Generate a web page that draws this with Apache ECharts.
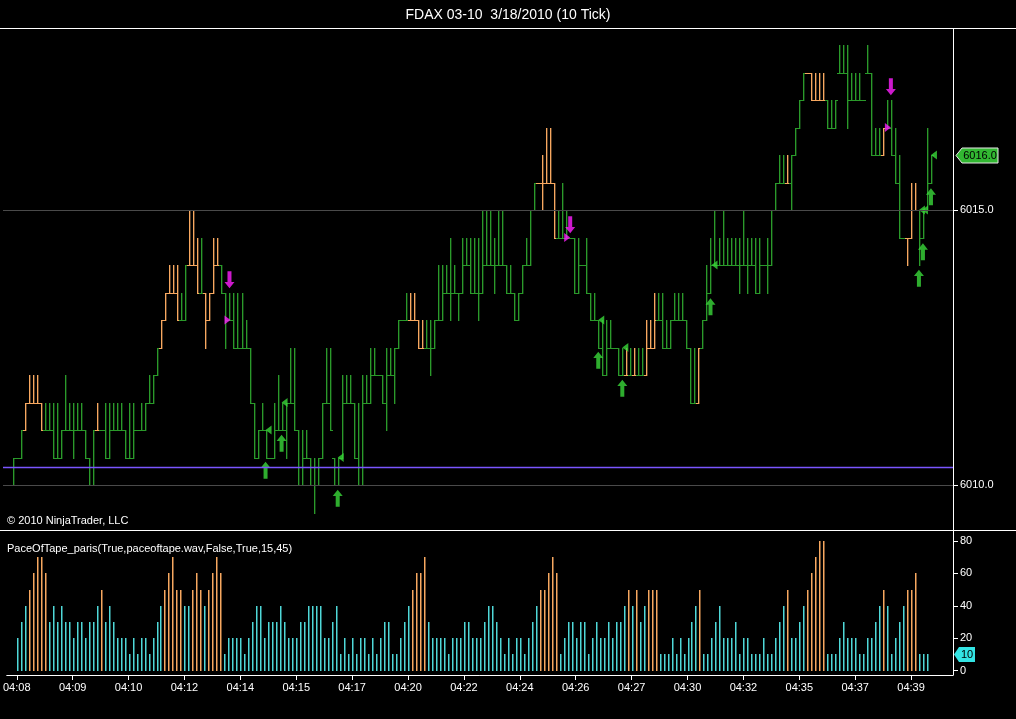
<!DOCTYPE html>
<html>
<head>
<meta charset="utf-8">
<script src="https://cdn.jsdelivr.net/npm/echarts@6/dist/echarts.min.js"></script>
<style>
html,body{margin:0;padding:0;background:#000;}
#chart{width:1016px;height:719px;}
</style>
</head>
<body>
<div id="chart"></div>
<script>
// ---------- DATA ----------
const tickBars = [0,14,28,42,56,70,84,98,112,126,140,154,168,182,196,210,224];
const tickLabels = ['04:08','04:09','04:10','04:12','04:14','04:15','04:17','04:20','04:22','04:24','04:26','04:27','04:30','04:32','04:35','04:37','04:39'];

const barOpen = [
6010,6010.5,6010.5,6011,6011.5,6011.5,6011.5,6011.5,6011,6011,
6011,6010.5,6010.5,6011,6011,6011,6011,6011,6011,6010.5,
6010,6011,6011,6011,6010.5,6011,6011,6011,6011,6010.5,
6010.5,6011,6011,6011,6011.5,6011.5,6012,6012.5,6013,6013.5,
6013.5,6013.5,6013,6013,6014,6014,6014,6013.5,6013.5,6013,
6013.5,6014,6014,6013.5,6013,6013,6012.5,6012.5,6012.5,6012.5,
6011.5,6010.5,6011,6011,6010.5,6010.5,6011,6011,6011,6011.5,
6011.5,6011,6010,6010.5,6010.5,6010,6010,6010.5,6011.5,6011.5,
6010.5,6010,6010.5,6011.5,6011.5,6011.5,6010.5,6010,6011.5,6011.5,
6012,6012,6012,6011.5,6012,6012,6012.5,6013,6013,6013,
6013,6013,6012.5,6012.5,6012.5,6012.5,6013,6013,6013.5,6013.5,
6013.5,6013.5,6013.5,6014,6014,6013.5,6013.5,6013.5,6014,6014,
6014,6014,6014,6014,6013.5,6013.5,6013,6013.5,6014,6014,
6015,6015.5,6015.5,6015.5,6015.5,6015.5,6014.5,6014.5,6014.5,6014.5,
6014.5,6013.5,6014,6014,6013.5,6013,6013,6012.5,6012,6012.5,
6012.5,6012.5,6012,6012,6012,6012,6012,6012,6012,6012.5,
6012.5,6013,6013,6012.5,6012.5,6013,6013,6013,6013,6012.5,
6011.5,6011.5,6012.5,6013,6013.5,6014,6014,6014,6014,6014,
6014,6014,6014,6014,6014,6014,6013.5,6014,6014,6014,
6015,6015.5,6015.5,6015.5,6015.5,6016,6016.5,6017,6017.5,6017.5,
6017,6017,6017,6017,6016.5,6016.5,6017.5,6017.5,6017.5,6017,
6017,6017,6017,6017.5,6017.5,6016,6016,6016,6016.5,6016.5,
6016,6015.5,6014.5,6014.5,6014.5,6015,6015,6014.5,6015,6015.5];

const barHigh = [
6010.5,6010.5,6011,6011.5,6012,6012,6012,6011.5,6011.5,6011.5,
6011.5,6011.5,6011,6012,6011.5,6011.5,6011.5,6011.5,6011,6010.5,
6011,6011.5,6011,6011.5,6011.5,6011.5,6011.5,6011.5,6011,6011.5,
6011.5,6011,6011.5,6011.5,6012,6012,6012.5,6013,6013.5,6014,
6014,6014,6013.5,6014,6015,6015,6014.5,6014.5,6013.5,6013.5,
6014.5,6014.5,6014,6013.5,6013.5,6013.5,6013.5,6013.5,6013,6012.5,
6011.5,6011,6011.5,6011,6010.5,6011.5,6012,6011.5,6011.5,6012.5,
6012.5,6011,6011,6011,6010.5,6010.5,6010.5,6011.5,6012.5,6012.5,
6010.5,6010.5,6012,6012,6012,6011.5,6011.5,6012,6012,6012.5,
6012.5,6012,6012,6012.5,6012.5,6012.5,6013,6013,6013.5,6013.5,
6013.5,6013,6013,6013,6013,6013,6014,6014,6014,6014.5,
6014,6013.5,6014.5,6014.5,6014.5,6014.5,6014.5,6015,6015,6015,
6014.5,6015,6015,6014,6014,6013.5,6013.5,6014,6014.5,6015,
6015.5,6015.5,6016,6016.5,6016.5,6015.5,6015,6015.5,6015,6014.5,
6014.5,6014.5,6014,6014.5,6013.5,6013.5,6013,6013,6013,6013,
6012.5,6012.5,6012.5,6012.5,6012.5,6012.5,6012.5,6012.5,6013,6013,
6013.5,6013.5,6013.5,6013,6013,6013.5,6013.5,6013.5,6013,6012.5,
6012.5,6012.5,6013,6014,6014.5,6015,6014.5,6015,6014.5,6014.5,
6014.5,6014.5,6015,6014.5,6014.5,6014.5,6014.5,6014,6014.5,6015,
6015.5,6016,6016,6016,6016,6016.5,6017,6017.5,6017.5,6017.5,
6017.5,6017.5,6017.5,6017,6017,6017,6018,6018,6018,6017.5,
6017.5,6017.5,6017,6018,6017.5,6016.5,6016.5,6016.5,6017,6017,
6016.5,6016,6014.5,6014.5,6015.5,6015.5,6015,6015,6016.5,6016];

const barLow = [
6010,6010.5,6010.5,6011,6011.5,6011.5,6011.5,6011,6011,6011,
6010.5,6010.5,6010.5,6011,6011,6010.5,6011,6011,6010.5,6010,
6010,6011,6011,6010.5,6010.5,6011,6011,6011,6010.5,6010.5,
6010.5,6011,6011,6011,6011.5,6011.5,6012,6012.5,6013,6013.5,
6013.5,6013,6013,6013,6014,6014,6013.5,6013.5,6012.5,6013,
6013.5,6014,6013.5,6012.5,6013,6012.5,6012.5,6012.5,6012.5,6011.5,
6010.5,6010.5,6011,6010.5,6010.5,6010.5,6011,6011,6010.5,6011.5,
6011,6010,6010,6010.5,6010,6009.5,6010,6010.5,6011.5,6011,
6010,6010,6010.5,6011.5,6011.5,6010.5,6010,6010,6011.5,6011.5,
6012,6012,6011.5,6011,6012,6011.5,6012.5,6013,6013,6013,
6013,6012.5,6012.5,6012.5,6012,6012.5,6013,6013,6013.5,6013,
6013.5,6013,6013.5,6014,6013.5,6013.5,6013,6013.5,6014,6014,
6013.5,6014,6014,6013.5,6013.5,6013,6013,6013.5,6014,6014,
6015,6015.5,6015,6015.5,6015.5,6014.5,6014.5,6014.5,6014.5,6014.5,
6013.5,6013.5,6014,6013.5,6013,6013,6012.5,6012,6012,6012.5,
6012.5,6012,6012,6012,6012,6012,6012,6012,6012,6012.5,
6012.5,6013,6012.5,6012.5,6012.5,6013,6013,6013,6012.5,6011.5,
6011.5,6011.5,6012.5,6013,6013.5,6014,6014,6014,6014,6014,
6014,6013.5,6014,6013.5,6014,6013.5,6013.5,6014,6013.5,6014,
6015,6015.5,6015.5,6015.5,6015,6016,6016.5,6017,6017.5,6017,
6017,6017,6017,6016.5,6016.5,6016.5,6017.5,6017.5,6016.5,6017,
6017,6017,6017,6017.5,6016,6016,6016,6016,6016.5,6016,
6015.5,6014.5,6014.5,6014,6014.5,6015,6014,6014.5,6015,6015.5];

const barClose = [
6010.5,6010.5,6011,6011.5,6011.5,6011.5,6011.5,6011,6011,6011,
6010.5,6010.5,6011,6011,6011,6011,6011,6011,6010.5,6010,
6011,6011,6011,6010.5,6011,6011,6011,6011,6010.5,6010.5,
6011,6011,6011,6011.5,6011.5,6012,6012.5,6013,6013.5,6013.5,
6013.5,6013,6013,6014,6014,6014,6013.5,6013.5,6013,6013.5,
6014,6014,6013.5,6013,6013,6012.5,6012.5,6012.5,6012.5,6011.5,
6010.5,6011,6011,6010.5,6010.5,6011,6011,6011,6011.5,6011.5,
6011,6010,6010.5,6010.5,6010,6010,6010.5,6011.5,6011.5,6011,
6010,6010.5,6011.5,6011.5,6011.5,6010.5,6010,6011.5,6011.5,6012,
6012,6012,6011.5,6012,6012,6012.5,6013,6013,6013,6013,
6013,6012.5,6012.5,6012.5,6012.5,6013,6013,6013.5,6013.5,6013.5,
6013.5,6013.5,6014,6014,6013.5,6013.5,6013.5,6014,6014,6014,
6014,6014,6014,6013.5,6013.5,6013,6013.5,6014,6014,6015,
6015.5,6015.5,6015.5,6015.5,6015.5,6014.5,6014.5,6014.5,6014.5,6014.5,
6013.5,6014,6014,6013.5,6013,6013,6012.5,6012,6012.5,6012.5,
6012.5,6012,6012,6012,6012,6012,6012,6012,6012.5,6012.5,
6013,6013,6012.5,6012.5,6013,6013,6013,6013,6012.5,6011.5,
6011.5,6012.5,6013,6013.5,6014,6014,6014,6014,6014,6014,
6014,6014,6014,6014,6014,6013.5,6014,6014,6014,6015,
6015.5,6015.5,6015.5,6015.5,6016,6016.5,6017,6017.5,6017.5,6017,
6017,6017,6017,6016.5,6016.5,6017,6017.5,6017.5,6017,6017,
6017,6017,6017,6017.5,6016,6016,6016,6016.5,6016.5,6016,
6015.5,6014.5,6014.5,6014.5,6015,6015,6014.5,6015,6015.5,6016];

const paceValues = [
20,30,40,50,60,70,70,60,30,40,
30,40,30,30,20,30,30,20,30,30,
40,50,30,40,30,20,20,20,10,20,
10,20,20,10,20,30,40,50,60,70,
50,50,40,40,50,60,50,40,50,60,
70,60,10,20,20,20,20,10,20,30,
40,40,20,30,30,30,40,30,20,20,
20,30,30,40,40,40,40,20,20,30,
40,10,20,10,20,10,20,20,10,20,
10,20,30,30,10,10,20,30,40,50,
60,60,70,30,20,20,20,20,10,20,
20,20,30,30,20,20,20,30,40,40,
30,20,10,20,10,20,20,10,20,30,
40,50,50,60,70,60,10,20,30,30,
20,30,30,10,20,30,20,20,30,20,
30,30,40,50,40,50,30,40,50,50,
50,10,10,10,20,10,20,10,20,30,
40,50,10,10,20,30,40,20,20,20,
30,10,20,20,10,10,10,20,10,10,
20,30,40,50,20,20,30,40,50,60,
70,80,80,10,10,10,20,30,20,20,
20,10,10,20,20,30,40,50,40,10,
20,30,40,50,50,60,10,10,10];
const paceThreshold = 45;

const upArrowBars   = [63,67,81,146,152,174,226,227,229];
const upArrowPrices = [6010.27,6010.76,6009.76,6012.27,6011.76,6013.24,6013.76,6014.24,6015.24];
const downArrowBars   = [54,139,219];
const downArrowPrices = [6013.73,6014.73,6017.24];
const leftTriBars   = [63.75,67.75,81.75,146.75,152.75,175,226.75,227.5,229.75];
const leftTriPrices = [6011,6011.5,6010.5,6013,6012.5,6014,6015,6015,6016];
const rightTriBars   = [53.5,138.25,218.25];
const rightTriPrices = [6013,6014.5,6016.5];
const priceGridLines = [6010, 6015];
const purpleLevel = 6010.33;
const priceTicks = [6010, 6015];
const paceTicks = [0,20,40,60,80];

// ---------- STYLE ----------
const GREEN = '#2a9a2a', ORANGE = '#f7a860', CYAN = '#4fd8d8';
const FONT = '"Liberation Sans", Arial, sans-serif';

const ohlcData = barOpen.map((o, i) => [i, o, barHigh[i], barLow[i], barClose[i], paceValues[i] == null ? 0 : paceValues[i]]);
const paceData = paceValues.map((v, i) => [i, v]);

function renderOHLC(params, api) {
  const i = api.value(0);
  const po = api.coord([i, api.value(1)]);
  const ph = api.coord([i, api.value(2)]);
  const pl = api.coord([i, api.value(3)]);
  const pc = api.coord([i, api.value(4)]);
  const x = Math.round(po[0]);
  const yh = Math.round(ph[1]), yl = Math.round(pl[1]);
  const yo = Math.round(po[1]), yc = Math.round(pc[1]);
  const color = api.value(5) > paceThreshold ? ORANGE : GREEN;
  const st = {fill: color};
  const h = Math.max(1, yl - yh + 1);
  return {type: 'group', children: [
    {type: 'rect', shape: {x: x + 1, y: yh, width: 1, height: h}, style: {fill: color, opacity: 0.35}},
    {type: 'rect', shape: {x: x, y: yh, width: 1, height: h}, style: st},
    {type: 'rect', shape: {x: x - 2, y: yo, width: 2, height: 1}, style: st},
    {type: 'rect', shape: {x: x + 1, y: yc, width: 2, height: 1}, style: st}
  ]};
}

function renderPace(params, api) {
  const i = api.value(0);
  const top = api.coord([i, api.value(1)]);
  const base = api.coord([i, 0]);
  const x = Math.round(top[0]);
  const color = api.value(1) > paceThreshold ? ORANGE : CYAN;
  const yt = Math.round(top[1]), yb = Math.round(base[1]);
  return {type: 'group', children: [
    {type: 'rect', shape: {x: x + 1, y: yt, width: 1, height: yb - yt}, style: {fill: color, opacity: 0.5}},
    {type: 'rect', shape: {x: x, y: yt, width: 1, height: yb - yt}, style: {fill: color}}
  ]};
}

const upPath = 'path://M5,0 L10,6 L7,6 L7,16 L3,16 L3,6 L0,6 Z';
const downPath = 'path://M3,0 L7,0 L7,10 L10,10 L5,16 L0,10 L3,10 Z';
const leftTri = 'path://M0,5 L7,0 L7,10 Z';
const rightTri = 'path://M7,5 L0,0 L0,10 Z';

const chart = echarts.init(document.getElementById('chart'), null, {renderer: 'canvas'});

const xCommon = {type: 'value', min: -2.5, max: 234.5, splitLine: {show: false}};

chart.setOption({
  backgroundColor: '#000',
  animation: false,
  title: {
    text: 'FDAX 03-10  3/18/2010 (10 Tick)', left: 'center', top: 3,
    textStyle: {color: '#fff', fontSize: 14, fontWeight: 'normal', fontFamily: FONT}
  },
  grid: [
    {left: 3, right: 63, top: 29, height: 501},
    {left: 3, right: 63, top: 531, bottom: 44}
  ],
  xAxis: [
    Object.assign({gridIndex: 0, show: false}, xCommon),
    Object.assign({gridIndex: 1,
      axisLine: {show: true, onZero: false, lineStyle: {color: '#fff', width: 1}},
      axisTick: {show: true, length: 5, lineStyle: {color: '#fff'}, customValues: tickBars},
      axisLabel: {show: true, color: '#fff', fontSize: 11, fontFamily: FONT, margin: 7,
        customValues: tickBars,
        formatter: v => { const k = tickBars.indexOf(Math.round(v)); return k >= 0 ? tickLabels[k] : ''; }}
    }, xCommon)
  ],
  yAxis: [
    {type: 'value', gridIndex: 0, position: 'right', min: 6009.182, max: 6018.291,
      splitLine: {show: false},
      axisLine: {show: true, onZero: false, lineStyle: {color: '#fff'}},
      axisTick: {show: true, length: 5, lineStyle: {color: '#fff'}, customValues: priceTicks},
      axisLabel: {color: '#fff', fontSize: 11, fontFamily: FONT, margin: 7, customValues: priceTicks,
        formatter: v => v.toFixed(1)}},
    {type: 'value', gridIndex: 1, position: 'right', min: -2.65, max: 86.2,
      splitLine: {show: false},
      axisLine: {show: true, onZero: false, lineStyle: {color: '#fff'}},
      axisTick: {show: true, length: 5, lineStyle: {color: '#fff'}, customValues: paceTicks},
      axisLabel: {color: '#fff', fontSize: 11, fontFamily: FONT, margin: 7, customValues: paceTicks}}
  ],
  series: [
    {type: 'custom', name: 'guides', xAxisIndex: 0, yAxisIndex: 0, data: [], renderItem: () => null,
      markLine: {silent: true, symbol: 'none', animation: false, label: {show: false},
        data: priceGridLines.map(v => ({yAxis: v, lineStyle: {color: '#4a4a4a', width: 1, type: 'solid'}}))
          .concat([{yAxis: purpleLevel, lineStyle: {color: '#7a55ff', width: 1.4, type: 'solid'}}])}},
    {type: 'custom', name: 'FDAX', xAxisIndex: 0, yAxisIndex: 0, data: ohlcData, renderItem: renderOHLC,
      encode: {x: 0, y: [1, 2, 3, 4]}, clip: true},
    {type: 'scatter', xAxisIndex: 0, yAxisIndex: 0, symbol: upPath, symbolSize: [10, 17],
      itemStyle: {color: '#3ad83a'}, data: upArrowBars.map((b, i) => [b, upArrowPrices[i]])},
    {type: 'scatter', xAxisIndex: 0, yAxisIndex: 0, symbol: downPath, symbolSize: [10, 17],
      itemStyle: {color: '#ff1fff'}, data: downArrowBars.map((b, i) => [b, downArrowPrices[i]])},
    {type: 'scatter', xAxisIndex: 0, yAxisIndex: 0, symbol: leftTri, symbolSize: [6, 9],
      itemStyle: {color: '#3ad83a'}, data: leftTriBars.map((b, i) => [b, leftTriPrices[i]])},
    {type: 'scatter', xAxisIndex: 0, yAxisIndex: 0, symbol: rightTri, symbolSize: [6, 9],
      itemStyle: {color: '#ff1fff'}, data: rightTriBars.map((b, i) => [b, rightTriPrices[i]])},
    {type: 'custom', name: 'Pace', xAxisIndex: 1, yAxisIndex: 1, data: paceData, renderItem: renderPace,
      encode: {x: 0, y: 1}, clip: true}
  ]
});

// value tags on the right axis, positioned through the chart's scales
const lastClose = barClose[barClose.length - 1];
const lastPace = paceValues[paceValues.length - 1];
const yPrice = Math.round(chart.convertToPixel({yAxisIndex: 0}, lastClose)) + 0.5;
const yPace = Math.round(chart.convertToPixel({yAxisIndex: 1}, lastPace)) + 0.5;
const axisX = 953;
chart.setOption({
  graphic: [
    {type: 'line', shape: {x1: 0, y1: 28.5, x2: 1016, y2: 28.5}, style: {stroke: '#fff', lineWidth: 1}, silent: true},
    {type: 'line', shape: {x1: 0, y1: 530.5, x2: 1016, y2: 530.5}, style: {stroke: '#fff', lineWidth: 1}, silent: true},
    {type: 'polygon', shape: {points: [[axisX + 3, yPrice], [axisX + 9, yPrice - 7.5], [axisX + 45, yPrice - 7.5], [axisX + 45, yPrice + 7.5], [axisX + 9, yPrice + 7.5]]},
      style: {fill: '#32b832', stroke: '#e8e8e8', lineWidth: 1}, silent: true},
    {type: 'text', x: axisX + 27, y: yPrice, style: {text: lastClose.toFixed(1), fill: '#000', font: '11px ' + FONT, align: 'center', verticalAlign: 'middle'}, silent: true},
    {type: 'polygon', shape: {points: [[axisX + 1, yPace], [axisX + 6, yPace - 7.5], [axisX + 22, yPace - 7.5], [axisX + 22, yPace + 7.5], [axisX + 6, yPace + 7.5]]},
      style: {fill: '#33e4e4'}, silent: true},
    {type: 'text', x: axisX + 14, y: yPace, style: {text: String(lastPace), fill: '#000', font: '11px ' + FONT, align: 'center', verticalAlign: 'middle'}, silent: true},
    {type: 'text', x: 7, y: 521, style: {text: '© 2010 NinjaTrader, LLC', fill: '#fff', font: '11px ' + FONT, verticalAlign: 'middle'}, silent: true},
    {type: 'text', x: 7, y: 549, style: {text: 'PaceOfTape_paris(True,paceoftape.wav,False,True,15,45)', fill: '#fff', font: '11px ' + FONT, verticalAlign: 'middle'}, silent: true}
  ]
});
</script>
</body>
</html>
